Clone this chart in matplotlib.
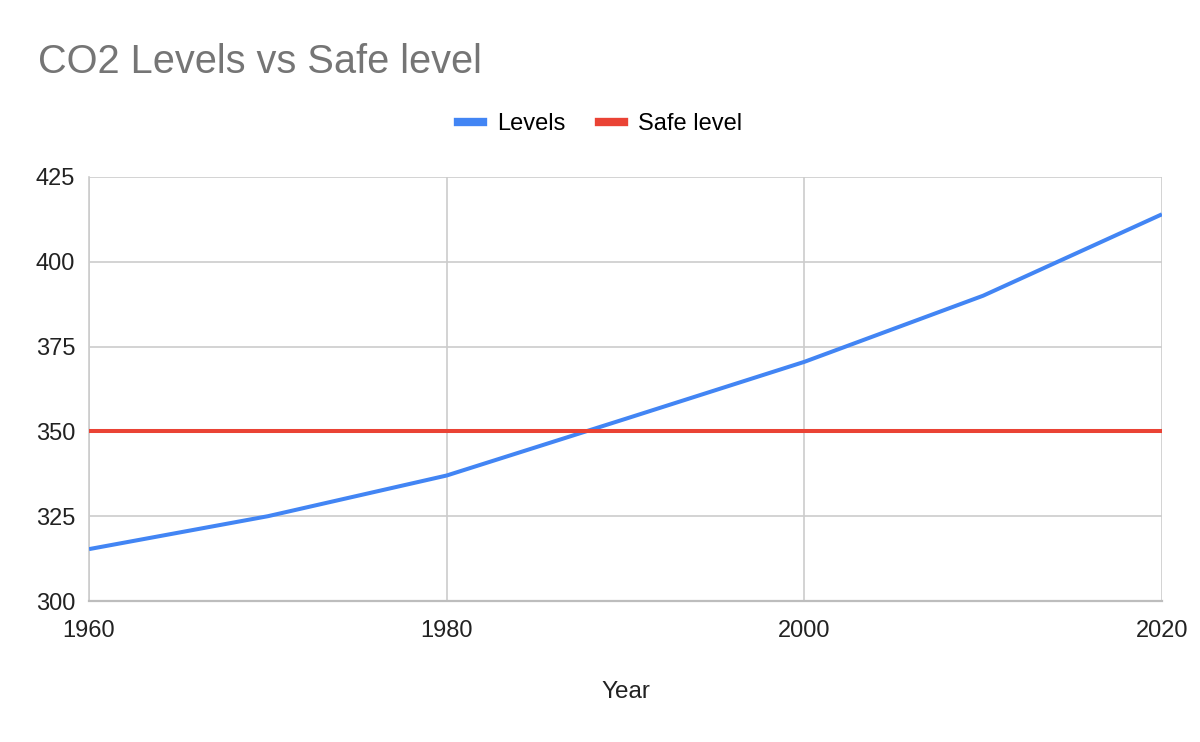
import matplotlib.pyplot as plt
from matplotlib.lines import Line2D

plt.rcParams["font.family"] = ["Liberation Sans", "DejaVu Sans"]

years = [1960, 1970, 1980, 1990, 2000, 2010, 2020]
levels = [315.3, 325, 337, 353.7, 370.5, 390, 414]
safe_level = [350, 350, 350, 350, 350, 350, 350]

x_ticks = [1960, 1980, 2000, 2020]
y_ticks = [300, 325, 350, 375, 400, 425]

BLUE = "#4285f4"
RED = "#ea4335"
GRID = "#cccccc"


def main():
    fig = plt.figure(figsize=(12, 7.42), dpi=100)
    ax = fig.add_axes([0.0742, 0.190, 0.8941, 0.5715])

    ax.plot(years, levels, color=BLUE, lw=2.9, solid_capstyle="butt", zorder=3)
    ax.plot(years, safe_level, color=RED, lw=2.9, solid_capstyle="butt", zorder=3)

    ax.set_xlim(1960, 2020)
    ax.set_ylim(300, 425)
    ax.set_xticks(x_ticks)
    ax.set_yticks(y_ticks)
    ax.grid(True, color=GRID, lw=1.2)
    ax.set_axisbelow(True)
    for side in ["top", "right"]:
        ax.spines[side].set_visible(False)
    ax.spines["left"].set_color(GRID)
    ax.spines["left"].set_linewidth(1.2)
    ax.spines["bottom"].set_color("#bdbdbd")
    ax.spines["bottom"].set_linewidth(1.6)
    ax.tick_params(length=0, labelsize=17, colors="#222222")
    ax.tick_params(axis="x", pad=14)
    ax.tick_params(axis="y", pad=10)

    ax.set_xlabel("Year", fontsize=17.5, color="#222222", labelpad=28)

    fig.text(38 / 1200, 1 - 62 / 742, "CO2 Levels vs Safe level",
             fontsize=28.6, color="#757575", ha="left", va="center")

    handles = [Line2D([0], [0], color=BLUE, lw=6),
               Line2D([0], [0], color=RED, lw=6)]
    fig.legend(handles, ["Levels", "Safe level"], loc="center",
               bbox_to_anchor=(600 / 1200, 1 - 124 / 742), ncol=2,
               frameon=False, fontsize=17, handlelength=1.06,
               columnspacing=1.4, handletextpad=0.6)

    fig.savefig("out.png", dpi=100, facecolor="white")


if __name__ == "__main__":
    main()
